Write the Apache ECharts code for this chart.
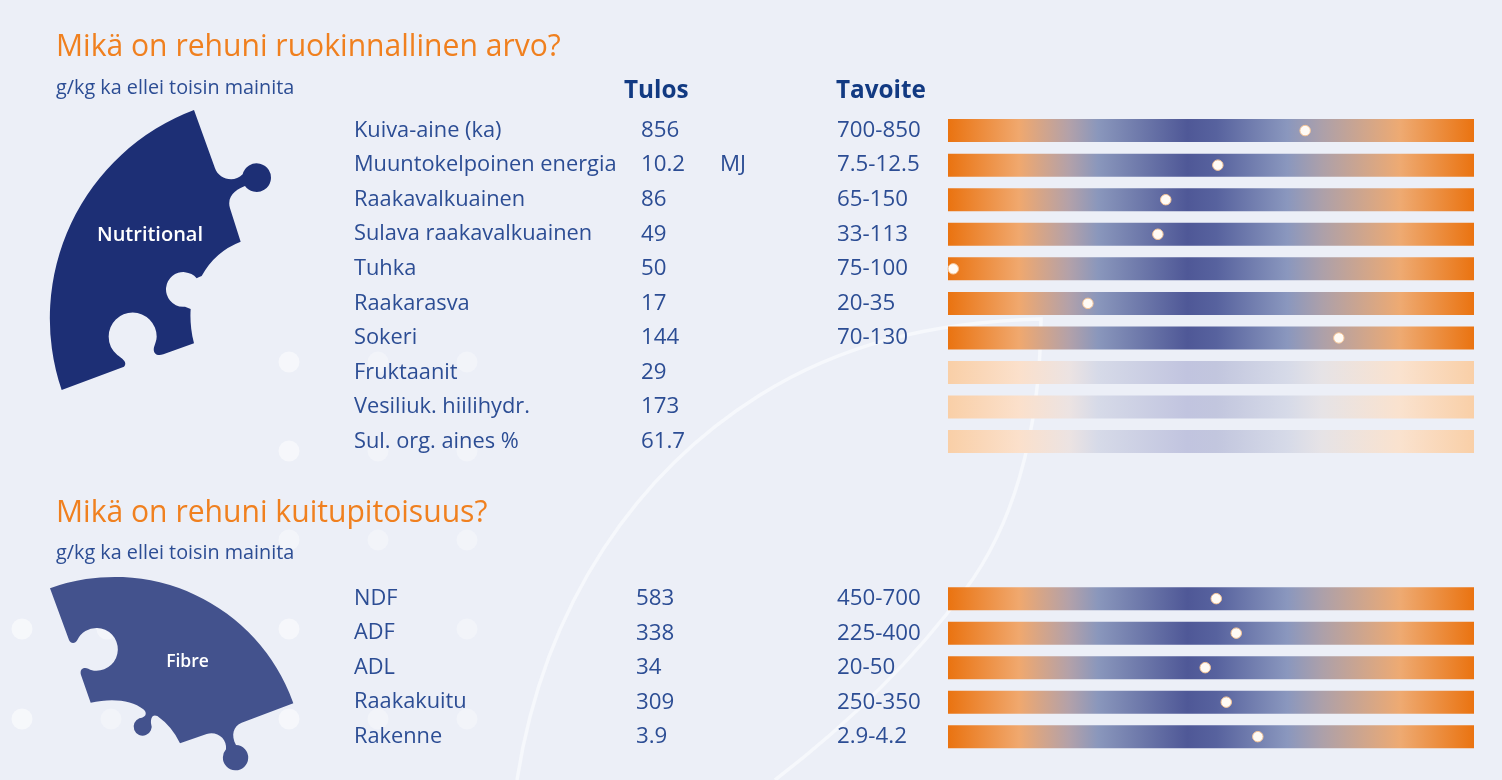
<!DOCTYPE html>
<html><head><meta charset="utf-8">
<style>html,body{margin:0;padding:0;background:#ECEFF7}#c{width:1502px;height:780px}</style>
<script src="https://cdn.jsdelivr.net/npm/echarts@6/dist/echarts.min.js"></script>
</head><body><div id="c"></div>
<script>
// Section 1: feeding value
const namesA = ['Kuiva-aine (ka)','Muuntokelpoinen energia','Raakavalkuainen','Sulava raakavalkuainen','Tuhka','Raakarasva','Sokeri','Fruktaanit','Vesiliuk. hiilihydr.','Sul. org. aines %'];
const resultsA = ['856','10.2','86','49','50','17','144','29','173','61.7'];
const unitsA = ['','MJ','','','','','','','',''];
const targetsA = ['700-850','7.5-12.5','65-150','33-113','75-100','20-35','70-130','','',''];
const gaugeA = [67.9,51.3,41.4,39.9,1.0,26.6,74.3,null,null,null];
// Section 2: fibre
const namesB = ['NDF','ADF','ADL','Raakakuitu','Rakenne'];
const resultsB = ['583','338','34','309','3.9'];
const targetsB = ['450-700','225-400','20-50','250-350','2.9-4.2'];
const gaugeB = [51.0,54.8,48.9,52.9,58.9];

const txt='#2C4D94', head='#123A82', orange='#F0801F', bg='#ECEFF7', font='"Open Sans"';
const stops=[0,.135,.23,.285,.455,.51,.645,.71,.86,1];
const strong=['#EA7310','#F0A86E','#B3A1A9','#8A97BC','#4F5897','#57629E','#8A97BE','#ACA0AA','#EEAA72','#EA7310'];
const pale=['#F9CFA7','#FBE0CB','#ECE3E2','#D6DAE8','#C1C4DF','#C2C6DE','#D6DAE8','#E6E3E6','#FAE2CE','#F9CFA7'];
const grad=cols=>new echarts.graphic.LinearGradient(0,0,1,0,stops.map((o,i)=>({offset:o,color:cols[i]})));
const barLeft=948, barWidth=526;

function textAxis(grid,data,x,size){
  return {type:'category',gridIndex:grid,inverse:true,data,position:'left',offset:barLeft-x,
    axisLine:{show:false},axisTick:{show:false},splitLine:{show:false},
    axisLabel:{show:true,interval:0,align:'left',margin:0,padding:[2,0,0,0],color:txt,fontFamily:font,fontSize:size||22.3}};
}
function bars(grid,yIdx,gauge){
  return {type:'bar',xAxisIndex:grid,yAxisIndex:yIdx,barWidth:23,silent:true,
    data:gauge.map(v=>({value:100,itemStyle:{color:grad(v==null?pale:strong)}}))};
}
function dots(grid,yIdx,gauge){
  return {type:'scatter',xAxisIndex:grid,yAxisIndex:yIdx,symbolSize:10.5,silent:true,z:5,
    itemStyle:{color:'#FFFBF5',borderColor:'#F6C596',borderWidth:1,opacity:1},
    data:gauge.map((v,i)=>v==null?null:[v,i]).filter(Boolean)};
}

const dotSpots=[[289,362,.5],[378,362,.3],[467,362,.3],[289,451,.5],[378,451,.3],[467,451,.3],[289,540,.4],[378,540,.3],[467,540,.3],
 [22,629,.55],[107,629,.4],[289,629,.5],[467,629,.3],[22,719,.55],[111,719,.3],[289,719,.5],[378,719,.3],[467,719,.3]];

const nutritional='M582 60 L645 235 C655 265 700 282 728 253 A43 43 0 1 1 735 288 C715 295 678 315 690 355 L722 455 A225 225 0 0 0 605 558 C600 560 595 562 590 565 A52 52 0 1 0 555 650 L572 657 C570 685 572 720 582 760 L490 793 C470 800 458 790 462 772 C465 760 470 752 470 740 A72 72 0 1 0 352 795 C362 803 385 815 372 830 L185 900 A668 668 0 0 1 582 60 Z';
const fibre='M150 85 A568 568 0 0 1 880 430 L725 488 C700 498 692 525 708 555 A38 38 0 1 1 678 568 C682 535 650 512 620 522 L540 550 A206 206 0 0 0 472 468 C458 462 452 472 453 490 A27 27 0 1 1 426 473 C438 470 442 458 430 448 C395 418 330 415 272 428 L243 345 C238 328 250 320 265 326 C272 330 280 332 288 332 A64 64 0 1 0 232 240 C226 252 212 252 207 240 Z';
const guide='M517 780 C545 600 640 470 760 395 C840 345 930 322 1041 319 C1040 440 1010 530 965 590 C910 665 840 730 775 780';
echarts.graphic.registerShape('nutriPiece',echarts.graphic.extendPath(nutritional,{}));
echarts.graphic.registerShape('fibrePiece',echarts.graphic.extendPath(fibre,{}));
echarts.graphic.registerShape('guideLine',echarts.graphic.extendPath(guide,{}));

const graphic=[
  ...dotSpots.map(d=>({type:'circle',z:-10,silent:true,shape:{cx:d[0],cy:d[1],r:10.5},style:{fill:'#fff',opacity:d[2]}})),
  {type:'guideLine',z:-9,silent:true,style:{fill:'none',stroke:'#F6F8FC',lineWidth:3.5}},
  {type:'nutriPiece',z:1,silent:true,x:0,y:90,scaleX:1/3,scaleY:1/3,style:{fill:'#1D2F75'}},
  {type:'fibrePiece',z:1,silent:true,x:0,y:560,scaleX:1/3,scaleY:1/3,style:{fill:'#43528D'}},
  {type:'text',z:2,silent:true,x:150,y:235,style:{text:'Nutritional',fill:'#fff',font:'600 20px "Open Sans"',textAlign:'center',textVerticalAlign:'middle'}},
  {type:'text',z:2,silent:true,x:187.5,y:662.5,style:{text:'Fibre',fill:'#fff',font:'600 17.5px "Open Sans"',textAlign:'center',textVerticalAlign:'middle'}},
];

const titleStyle={color:orange,fontFamily:font,fontWeight:'normal',fontSize:30.1};
const subStyle={color:txt,fontFamily:font,fontWeight:'normal',fontSize:19.8};
const headStyle={color:head,fontFamily:font,fontWeight:'bold',fontSize:24.3};

const option={
  backgroundColor:bg,animation:false,
  title:[
    {text:'Mikä on rehuni ruokinnallinen arvo?',left:56,top:32,padding:0,textStyle:titleStyle},
    {text:'g/kg ka ellei toisin mainita',left:56,top:78,padding:0,textStyle:subStyle},
    {text:'Mikä on rehuni kuitupitoisuus?',left:56,top:498,padding:0,textStyle:titleStyle},
    {text:'g/kg ka ellei toisin mainita',left:56,top:543,padding:0,textStyle:subStyle},
    {text:'Tulos',left:624,top:79,padding:0,textStyle:headStyle},
    {text:'Tavoite',left:836,top:79,padding:0,textStyle:headStyle},
  ],
  grid:[
    {left:barLeft,width:barWidth,top:113.3,height:345.6},
    {left:barLeft,width:barWidth,top:581.4,height:172.5},
  ],
  xAxis:[
    {type:'value',gridIndex:0,min:0,max:100,show:false},
    {type:'value',gridIndex:1,min:0,max:100,show:false},
  ],
  yAxis:[
    textAxis(0,namesA,354,21.8),textAxis(0,resultsA,641),textAxis(0,unitsA,720),textAxis(0,targetsA,837),
    textAxis(1,namesB,354,21.8),textAxis(1,resultsB,636),textAxis(1,targetsB,837),
  ],
  series:[bars(0,0,gaugeA),dots(0,0,gaugeA),bars(1,4,gaugeB),dots(1,4,gaugeB)],
  graphic:{elements:graphic},
};
echarts.init(document.getElementById('c')).setOption(option);
</script></body></html>
